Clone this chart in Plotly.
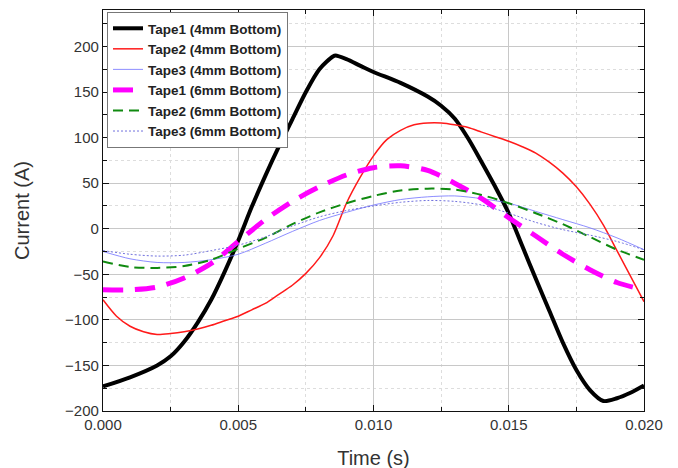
import plotly.graph_objects as go

time_s = [0.0, 0.001, 0.002, 0.0025, 0.003, 0.0035, 0.004, 0.0045, 0.005, 0.0055,
          0.006, 0.0065, 0.007, 0.0075, 0.008, 0.0085, 0.0086, 0.009, 0.0095, 0.010,
          0.011, 0.012, 0.0125, 0.013, 0.0135, 0.014, 0.0145, 0.015, 0.0155, 0.016,
          0.0165, 0.017, 0.0175, 0.018, 0.0185, 0.019, 0.0195, 0.020]
tape1_4mm = [-173, -163, -150, -140, -124, -103, -78, -47, -13, 24,
             58, 90, 120, 150, 175, 189, 190, 186, 179, 172,
             160, 145, 135, 121, 99, 73, 46, 17, -19, -55,
             -90, -125, -155, -177, -189, -186, -180, -172]

time_red = [0.0, 0.0005, 0.001, 0.0015, 0.002, 0.0025, 0.003, 0.0035, 0.004, 0.0045,
            0.005, 0.0055, 0.006, 0.0065, 0.007, 0.0075, 0.008, 0.0085, 0.009, 0.0095,
            0.010, 0.0105, 0.011, 0.0115, 0.012, 0.0125, 0.013, 0.0135, 0.014, 0.0145,
            0.015, 0.0155, 0.016, 0.0165, 0.017, 0.0175, 0.018, 0.0185, 0.019, 0.0195, 0.020]
tape2_4mm = [-78, -96, -107, -113, -116, -115, -113, -110, -106, -101,
             -96, -89, -82, -72, -62, -49, -32, -8, 28, 56,
             80, 98, 108, 114, 116, 116, 114, 111, 106, 101,
             96, 90, 83, 73, 61, 46, 27, 4, -24, -52, -80]

time_ms = [0.0, 0.001, 0.002, 0.003, 0.004, 0.005, 0.006, 0.007, 0.008, 0.009, 0.010,
           0.011, 0.012, 0.013, 0.014, 0.015, 0.016, 0.017, 0.018, 0.019, 0.020]
tape3_4mm = [-25, -33, -37, -37, -34, -28, -16, -3, 9, 18, 26,
             32, 35, 36, 33, 28, 19, 10, 1, -10, -23]
tape1_6mm = [-67, -67, -64, -54, -38, -14, 10, 30, 46, 59, 67,
             69, 64, 50, 33, 12, -8, -28, -45, -59, -67]
tape2_6mm = [-36, -42, -43, -41, -34, -22, -10, 5, 18, 28, 36,
             42, 44, 43, 37, 28, 17, 5, -9, -23, -34]
tape3_6mm = [-24, -28, -30, -29, -24, -18, -9, 3, 13, 20, 25,
             29, 31, 30, 26, 17, 7, -1, -7, -14, -23]

x_ticks = [0.0, 0.005, 0.010, 0.015, 0.020]
x_tick_labels = ["0.000", "0.005", "0.010", "0.015", "0.020"]
y_ticks = [-200, -150, -100, -50, 0, 50, 100, 150, 200]

FONT = "Liberation Sans, Arial"

fig = go.Figure()
series = [
    ("Tape1 (4mm Bottom)", time_s, tape1_4mm, dict(color="#000000", width=4)),
    ("Tape2 (4mm Bottom)", time_red, tape2_4mm, dict(color="#ff1a1a", width=1.5)),
    ("Tape3 (4mm Bottom)", time_ms, tape3_4mm, dict(color="#7070ff", width=0.8)),
    ("Tape1 (6mm Bottom)", time_ms, tape1_6mm, dict(color="#ff00ff", width=5, dash="20px,12px")),
    ("Tape2 (6mm Bottom)", time_ms, tape2_6mm, dict(color="#108a10", width=2, dash="10px,6px")),
    ("Tape3 (6mm Bottom)", time_ms, tape3_6mm, dict(color="#7070dd", width=1, dash="2px,2px")),
]
for name, xs, ys, line in series:
    fig.add_trace(go.Scatter(x=xs, y=ys, name=name, mode="lines",
                             line=dict(shape="spline", smoothing=0.8, **line)))

axis_common = dict(
    showline=True, linecolor="#111111", linewidth=1.3, mirror="ticks",
    ticks="inside", ticklen=6, tickcolor="#111111",
    showgrid=True, gridcolor="#c8c8c8", gridwidth=1,
    zeroline=False,
    tickfont=dict(family=FONT, size=15, color="#333333"),
)

fig.update_xaxes(
    range=[0, 0.020], tickvals=x_ticks, ticktext=x_tick_labels,
    title=dict(text="Time (s)", font=dict(family=FONT, size=20, color="#333333"), standoff=18),
    minor=dict(dtick=0.0025, ticks="inside", ticklen=4, tickcolor="#111111",
               showgrid=True, gridcolor="#dddddd", griddash="dot"),
    **axis_common,
)
fig.update_yaxes(
    range=[-200, 240], tickvals=y_ticks,
    title=dict(text="Current (A)", font=dict(family=FONT, size=20, color="#333333"), standoff=30),
    minor=dict(dtick=25, tick0=0, ticks="inside", ticklen=4, tickcolor="#111111",
               showgrid=True, gridcolor="#dddddd", griddash="dot"),
    **axis_common,
)

fig.update_layout(
    width=678, height=468,
    margin=dict(l=95, r=42, t=2, b=65),
    paper_bgcolor="white", plot_bgcolor="white",
    legend=dict(x=0.0074, y=0.995, xanchor="left", yanchor="top",
                bgcolor="white", bordercolor="#777777", borderwidth=1,
                font=dict(family=FONT, size=13.5, color="#222222", weight="bold"),
                itemwidth=30, tracegroupgap=0),
)

fig.write_html("out.html")
